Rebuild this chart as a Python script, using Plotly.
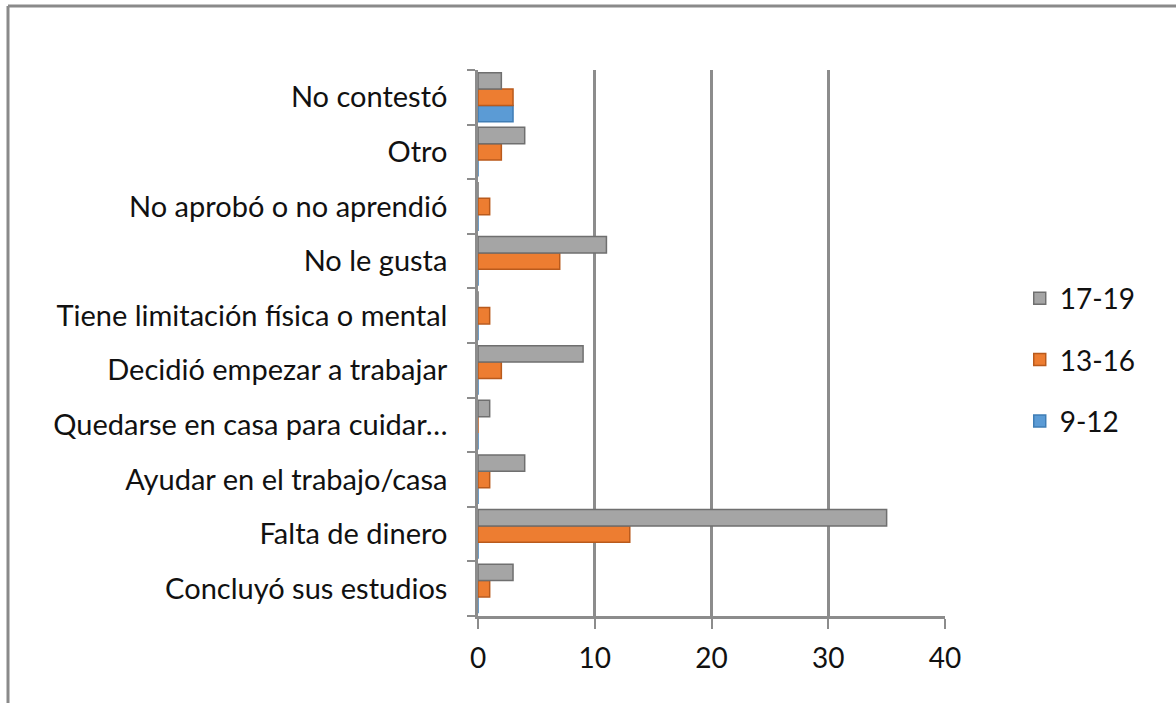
"""Motivos de abandono escolar por grupo de edad — barras horizontales."""

import plotly.graph_objects as go

W, H = 1176, 703

# categorías, de abajo hacia arriba
categorias = [
    "Concluyó sus estudios",
    "Falta de dinero",
    "Ayudar en el trabajo/casa",
    "Quedarse en casa para cuidar…",
    "Decidió empezar a trabajar",
    "Tiene limitación física o mental",
    "No le gusta",
    "No aprobó o no aprendió",
    "Otro",
    "No contestó",
]

edad_9_12 = [0, 0, 0, 0, 0, 0, 0, 0, 0, 3]
edad_13_16 = [1, 13, 1, 0, 2, 1, 7, 1, 2, 3]
edad_17_19 = [3, 35, 4, 1, 9, 0, 11, 0, 4, 2]

x_ticks = [0, 10, 20, 30, 40]

FONT = "Lato"

fig = go.Figure()

# (name, values, fill, edge, legend rank)
series = [
    ("9-12", edad_9_12, "#5B9BD5", "#3f7db5", 3),
    ("13-16", edad_13_16, "#ED7D31", "#b95a1c", 2),
    ("17-19", edad_17_19, "#A5A5A5", "#6f6f6f", 1),
]
for name, vals, color, edge, rank in series:
    fig.add_trace(
        go.Bar(
            y=categorias,
            x=vals,
            name=name,
            legendgroup=name,
            legendrank=rank,
            orientation="h",
            marker=dict(color=color, line=dict(color=edge, width=1.5)),
        )
    )

# plot area in pixels
L, R, T, B = 478, 945, 70, 616
pw, ph = R - L, B - T

# chart frame (top and left edges only visible)
fig.add_shape(type="line", xref="paper", yref="paper",
              x0=(8 - L) / pw, x1=(W + 20 - L) / pw,
              y0=(B - 6) / ph, y1=(B - 6) / ph,
              line=dict(color="#8a8a8a", width=3))
fig.add_shape(type="line", xref="paper", yref="paper",
              x0=(8 - L) / pw, x1=(8 - L) / pw,
              y0=(B - 6) / ph, y1=(B - H - 20) / ph,
              line=dict(color="#8a8a8a", width=3))

fig.update_layout(
    width=W,
    height=H,
    barmode="group",
    bargap=0.1,
    bargroupgap=0.0,
    plot_bgcolor="white",
    paper_bgcolor="white",
    font=dict(family=FONT, size=29, color="#111111"),
    margin=dict(l=L, r=W - R, t=T, b=H - B),
    showlegend=True,
    legend=dict(
        traceorder="grouped",
        x=1.16,
        xanchor="left",
        y=(B - 360) / ph,
        yanchor="middle",
        font=dict(family=FONT, size=28),
        itemwidth=30,
        tracegroupgap=22,
    ),
    xaxis=dict(
        range=[0, 40],
        tickvals=x_ticks,
        showgrid=True,
        gridcolor="#8c8c8c",
        gridwidth=2.5,
        zeroline=False,
        showline=True,
        linecolor="#8c8c8c",
        linewidth=2.5,
        ticks="outside",
        ticklen=10,
        tickwidth=2,
        tickcolor="#8c8c8c",
        ticklabelstandoff=6,
        tickfont=dict(size=28),
        mirror=False,
    ),
    yaxis=dict(
        type="category",
        categoryorder="array",
        categoryarray=categorias,
        showgrid=False,
        showline=True,
        linecolor="#8c8c8c",
        linewidth=2.5,
        ticks="outside",
        tickson="boundaries",
        ticklen=8,
        tickwidth=1.5,
        tickcolor="#8c8c8c",
        ticklabelstandoff=22,
        tickfont=dict(size=29),
    ),
)

fig.write_html(
    "out.html",
    config={"displayModeBar": False},
    post_script="document.body.style.margin='0';",
)
